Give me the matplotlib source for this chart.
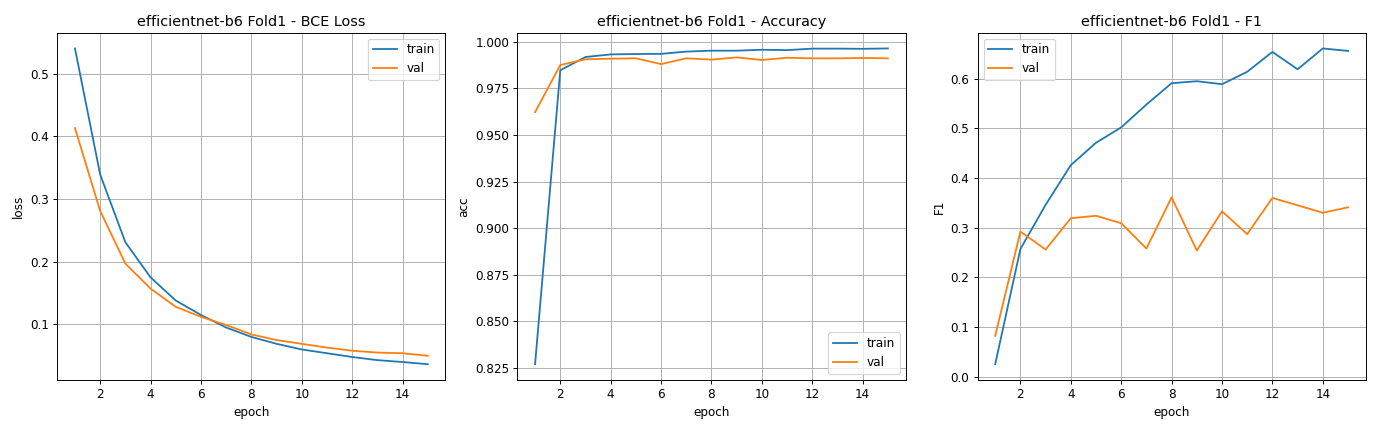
import matplotlib
matplotlib.use("Agg")
import matplotlib.pyplot as plt

epochs = list(range(1, 16))
loss_train = [0.540, 0.339, 0.231, 0.175, 0.138, 0.115, 0.095, 0.080, 0.069, 0.060, 0.054, 0.048, 0.043, 0.040, 0.0365]
loss_val = [0.413, 0.281, 0.197, 0.157, 0.128, 0.112, 0.099, 0.084, 0.075, 0.069, 0.063, 0.058, 0.055, 0.054, 0.050]
acc_train = [0.827, 0.9847, 0.9918, 0.9932, 0.9934, 0.9935, 0.9947, 0.9952, 0.9952, 0.9957, 0.9955, 0.9963, 0.9963, 0.9962, 0.9964]
acc_val = [0.9622, 0.9875, 0.9906, 0.9909, 0.9911, 0.9880, 0.9911, 0.9904, 0.9916, 0.9902, 0.9914, 0.9911, 0.9911, 0.9913, 0.9911]
f1_train = [0.025, 0.257, 0.346, 0.426, 0.471, 0.502, 0.548, 0.591, 0.595, 0.589, 0.614, 0.654, 0.619, 0.661, 0.656]
f1_val = [0.082, 0.292, 0.256, 0.319, 0.324, 0.309, 0.258, 0.361, 0.254, 0.333, 0.287, 0.360, 0.345, 0.330, 0.341]

titles = ["efficientnet-b6 Fold1 - BCE Loss", "efficientnet-b6 Fold1 - Accuracy", "efficientnet-b6 Fold1 - F1"]
ylabels = ["loss", "acc", "F1"]
series = [(loss_train, loss_val), (acc_train, acc_val), (f1_train, f1_val)]
legend_locs = ["upper right", "lower right", "upper left"]

W, H = 1379, 431
DPI = 86.21
fig = plt.figure(figsize=(16, 5), dpi=DPI)
lefts = [57.3, 517.3, 977.3]
for i in range(3):
    ax = fig.add_axes([lefts[i] / W, (H - 380) / H, 388 / W, 347.3 / H])
    tr, va = series[i]
    ax.plot(epochs, tr, label="train")
    ax.plot(epochs, va, label="val")
    ax.set_title(titles[i])
    ax.set_xlabel("epoch")
    ax.set_ylabel(ylabels[i])
    ax.set_xticks([2, 4, 6, 8, 10, 12, 14])
    ax.grid(True)
    ax.legend(loc=legend_locs[i])

fig.savefig("out.png", dpi=DPI)
